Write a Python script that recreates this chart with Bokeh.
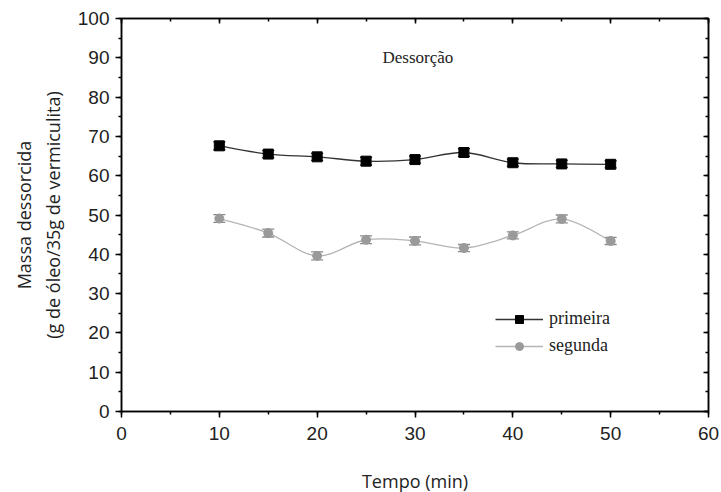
import numpy as np
from bokeh.plotting import figure
from bokeh.models import (ColumnDataSource, Whisker, TeeHead, LinearAxis,
                          SingleIntervalTicker, Range1d, Legend, LegendItem, Label)
from bokeh.embed import file_html
from bokeh.resources import INLINE

# ---- data ----
tempo = [10, 15, 20, 25, 30, 35, 40, 45, 50]
primeira = [67.6, 65.5, 64.8, 63.7, 64.1, 65.9, 63.3, 63.0, 62.9]
primeira_err = [1.0, 0.9, 0.9, 1.0, 0.9, 1.0, 0.9, 0.9, 0.9]
segunda = [49.1, 45.4, 39.6, 43.7, 43.4, 41.6, 44.8, 49.0, 43.4]
segunda_err = [1.0, 1.0, 1.0, 1.0, 1.0, 0.9, 0.9, 1.0, 0.9]
series_names = ["primeira", "segunda"]
title_text = "Dessorção"
x_label = "Tempo (min)"
y_label = "Massa dessorcida\n(g de óleo/35g de vermiculita)"

SANS = "Liberation Sans"
LABEL_FONT = "Open Sans"
SERIF = "Liberation Serif"

p = figure(frame_width=587, frame_height=393, output_backend="svg",
           toolbar_location=None, x_range=Range1d(0, 60), y_range=Range1d(0, 100),
           min_border_left=121, min_border_right=11, min_border_top=18,
           min_border_bottom=72)
p.xgrid.visible = False
p.ygrid.visible = False
p.outline_line_color = "black"
p.outline_line_width = 1.5
p.background_fill_color = "white"
p.border_fill_color = "white"

xt = SingleIntervalTicker(interval=10, num_minor_ticks=2)
yt = SingleIntervalTicker(interval=10, num_minor_ticks=2)
p.xaxis.ticker = xt
p.yaxis.ticker = yt

for ax in (p.xaxis[0], p.yaxis[0]):
    ax.axis_line_color = "black"
    ax.axis_line_width = 1.5
    ax.major_tick_line_width = 1.5
    ax.minor_tick_line_width = 1.5
    ax.major_tick_out = 6
    ax.major_tick_in = 0
    ax.minor_tick_out = 3
    ax.minor_tick_in = 0
    ax.major_label_text_font = SANS
    ax.major_label_text_font_size = "19px"
    ax.major_label_text_color = "#222222"
    ax.axis_label_text_font = LABEL_FONT
    ax.axis_label_text_font_size = "18px"
    ax.axis_label_text_font_style = "normal"
    ax.axis_label_text_color = "#222222"

p.xaxis.axis_label = x_label
p.xaxis.major_label_standoff = 9
p.xaxis.axis_label_standoff = 26
p.yaxis.axis_label = y_label
p.yaxis.major_label_standoff = 6
p.yaxis.axis_label_standoff = 10

for loc, tk in (("above", xt), ("right", yt)):
    ax = LinearAxis(ticker=tk)
    ax.axis_line_color = "black"
    ax.axis_line_width = 1.5
    ax.major_tick_line_width = 1.5
    ax.minor_tick_line_width = 1.5
    ax.major_tick_in = 5
    ax.major_tick_out = 0
    ax.minor_tick_in = 3
    ax.minor_tick_out = 0
    ax.major_label_text_font_size = "0px"
    ax.major_label_standoff = 0
    p.add_layout(ax, loc)


def catmull(xs, ys):
    x = np.asarray(xs, float)
    y = np.asarray(ys, float)
    xp = np.concatenate([[x[0]], x, [x[-1]]])
    yp = np.concatenate([[y[0]], y, [y[-1]]])
    x0, y0 = xp[1:-2], yp[1:-2]
    x1, y1 = xp[2:-1], yp[2:-1]
    cx0 = x0 + (xp[2:-1] - xp[:-3]) / 6
    cy0 = y0 + (yp[2:-1] - yp[:-3]) / 6
    cx1 = x1 - (xp[3:] - xp[1:-2]) / 6
    cy1 = y1 - (yp[3:] - yp[1:-2]) / 6
    return dict(x0=x0, y0=y0, x1=x1, y1=y1, cx0=cx0, cy0=cy0, cx1=cx1, cy1=cy1)


styles = [
    dict(vals=primeira, err=primeira_err, line="#333333", mark="#000000",
         whisk="#222222", marker="square", size=10),
    dict(vals=segunda, err=segunda_err, line="#b5b5b5", mark="#9a9a9a",
         whisk="#8a8a8a", marker="circle", size=9),
]

items = []
for name, st in zip(series_names, styles):
    vals = np.asarray(st["vals"])
    err = np.asarray(st["err"])
    src = ColumnDataSource(dict(x=tempo, y=vals, upper=vals + err, lower=vals - err))
    bz = ColumnDataSource(catmull(tempo, vals))
    bzr = p.bezier(x0="x0", y0="y0", x1="x1", y1="y1", cx0="cx0", cy0="cy0",
                   cx1="cx1", cy1="cy1", source=bz, line_color=st["line"], line_width=1.3)
    wh = Whisker(base="x", upper="upper", lower="lower", source=src,
                 line_color=st["whisk"], line_width=1.3,
                 upper_head=TeeHead(size=12, line_color=st["whisk"], line_width=1.3),
                 lower_head=TeeHead(size=12, line_color=st["whisk"], line_width=1.3))
    p.add_layout(wh)
    sc = p.scatter(x="x", y="y", source=src, marker=st["marker"], size=st["size"],
                   fill_color=st["mark"], line_color=st["mark"])
    items.append(LegendItem(label=name, renderers=[bzr, sc]))

legend = Legend(items=items, location=(374, 55), border_line_color=None,
                background_fill_alpha=0, glyph_width=48, glyph_height=20,
                label_standoff=6, spacing=6, padding=0, margin=0,
                label_text_font=SERIF, label_text_font_size="18px",
                label_text_color="#222222")
p.add_layout(legend, "center")

p.add_layout(Label(x=30.3, y=90.1, text=title_text, text_font=SERIF,
                   text_font_size="17px", text_color="#222222",
                   text_align="center", text_baseline="middle"))

open("out.html", "w").write(file_html(p, INLINE))
